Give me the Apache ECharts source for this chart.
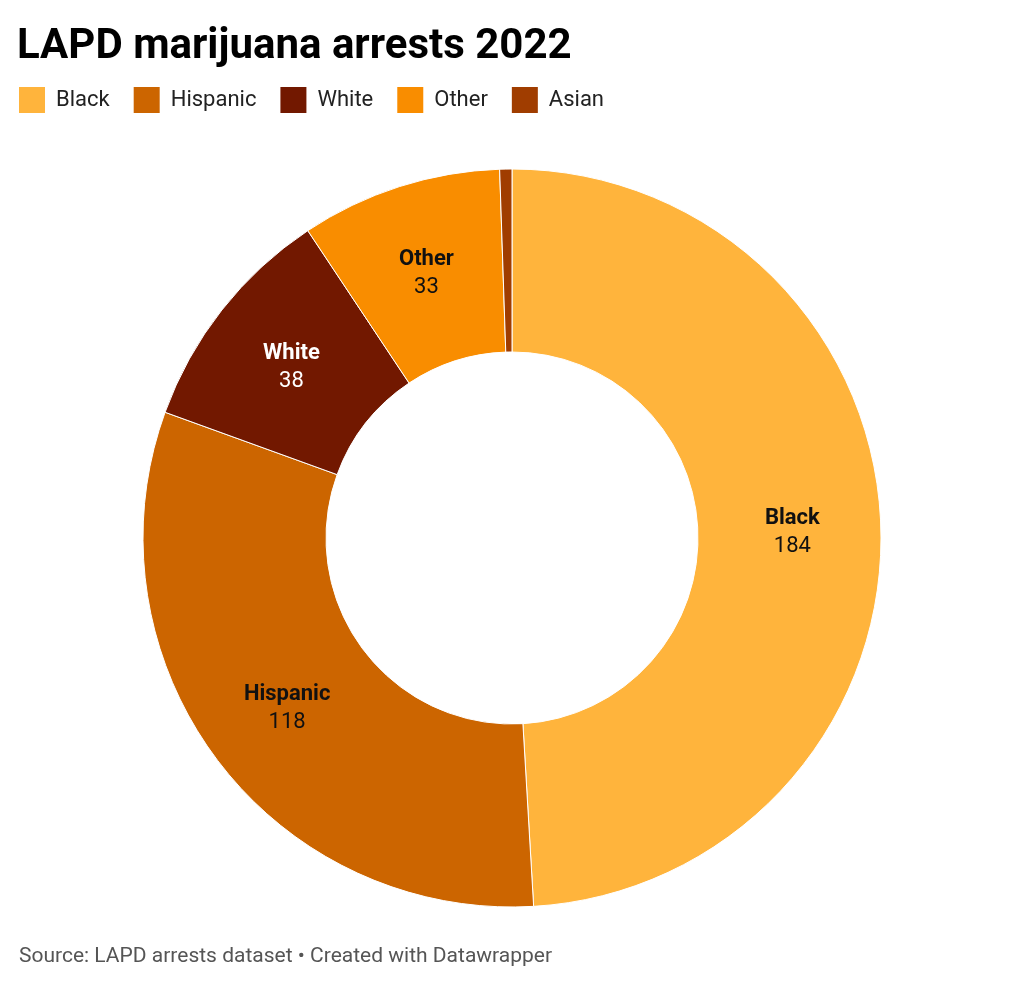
<!DOCTYPE html>
<html>
<head>
<meta charset="utf-8">
<script src="https://cdn.jsdelivr.net/npm/echarts@6/dist/echarts.min.js"></script>
<style>
html,body{margin:0;padding:0;background:#fff;}
#chart{width:1024px;height:990px;}
</style>
</head>
<body>
<div id="chart"></div>
<script>
const categories = ["Black", "Hispanic", "White", "Other", "Asian"];
const values = [184, 118, 38, 33, 2];
const colors = ["#FFB43C", "#CC6500", "#721800", "#F98D00", "#A03D00"];
const labelColors = ["#111111", "#111111", "#ffffff", "#111111", "#111111"];
const showLabel = [true, true, true, true, false];

const chart = echarts.init(document.getElementById('chart'));
const data = categories.map((c, i) => ({
  name: c,
  value: values[i],
  itemStyle: { color: colors[i] },
  label: { show: showLabel[i], color: labelColors[i] }
}));

chart.setOption({
  animation: false,
  title: {
    text: 'LAPD marijuana arrests 2022',
    left: 12,
    top: 21,
    textStyle: { fontFamily: 'Roboto', fontWeight: 'bold', fontSize: 42, color: '#000' }
  },
  legend: {
    left: 19,
    top: 87,
    padding: 0,
    itemWidth: 26,
    itemHeight: 26,
    itemGap: 24,
    icon: 'rect',
    selectedMode: false,
    itemStyle: { borderWidth: 0 },
    data: categories,
    textStyle: { fontFamily: 'Roboto', fontSize: 22, color: '#222', padding: [0, 0, 0, 6] }
  },
  graphic: [{
    type: 'text',
    left: 19,
    top: 946,
    style: { text: 'Source: LAPD arrests dataset \u2022 Created with Datawrapper', fill: '#555', fontFamily: 'Roboto', fontSize: 21 }
  }],
  series: [{
    type: 'pie',
    center: [512, 538],
    radius: [186, 369],
    startAngle: 90,
    clockwise: true,
    avoidLabelOverlap: false,
    itemStyle: { borderColor: '#fff', borderWidth: 1 },
    label: {
      position: 'inside',
      formatter: '{n|{b}}\n{v|{c}}',
      lineHeight: 28,
      padding: [6, 0, 0, 0],
      rich: {
        n: { fontFamily: 'Roboto', fontWeight: 'bold', fontSize: 22, lineHeight: 28 },
        v: { fontFamily: 'Roboto', fontSize: 22, lineHeight: 28 }
      }
    },
    labelLine: { show: false },
    emphasis: { disabled: true },
    data: data
  }]
});
</script>
</body>
</html>
